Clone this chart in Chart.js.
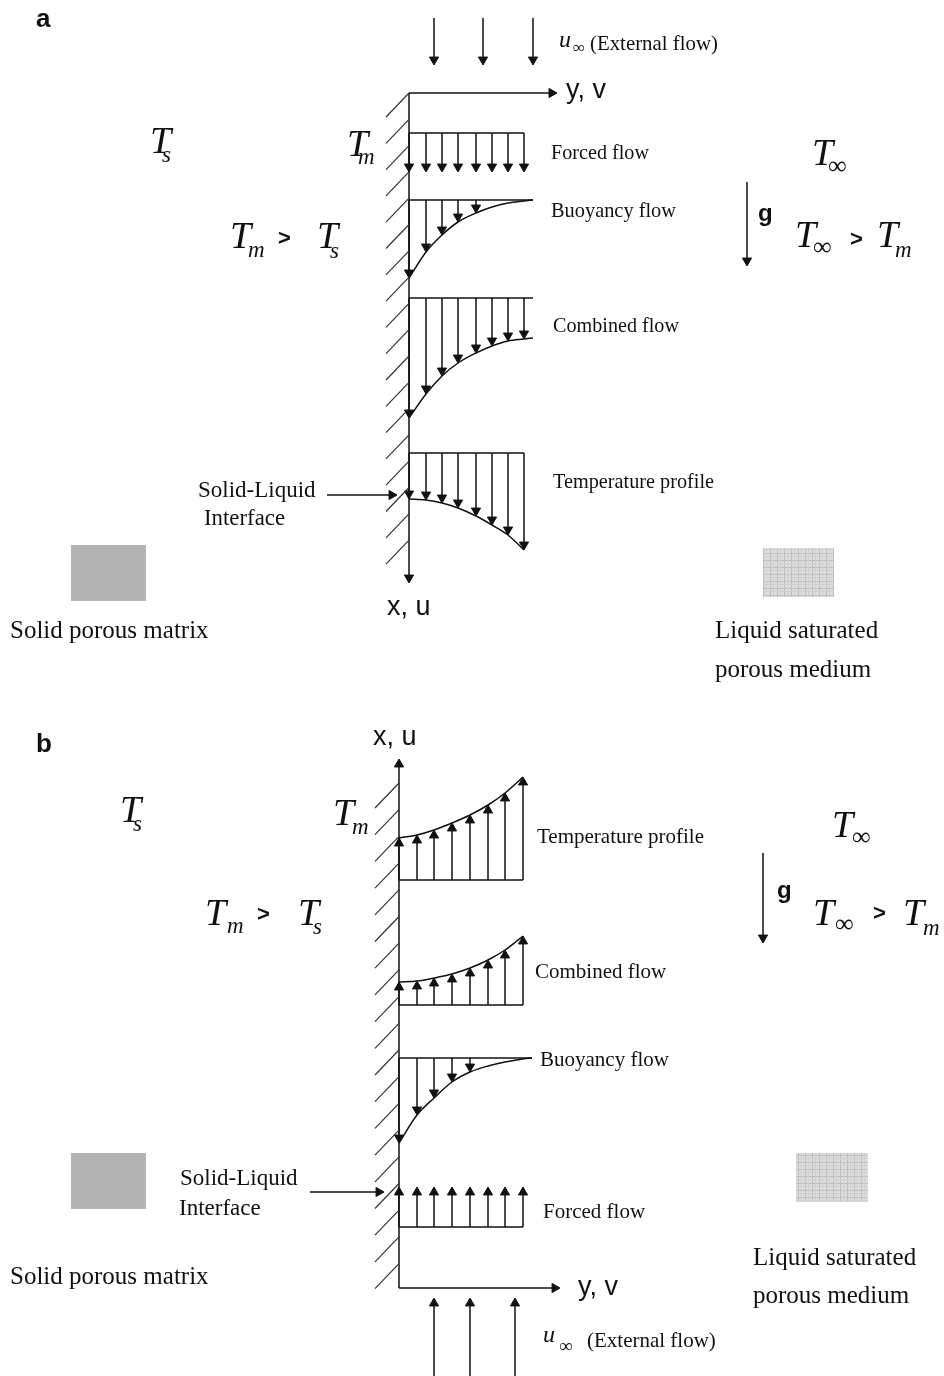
<!DOCTYPE html>
<html>
<head>
<meta charset="utf-8">
<script src="https://cdn.jsdelivr.net/npm/chart.js@4.4.1/dist/chart.umd.min.js"></script>
<style>
  html, body { margin: 0; padding: 0; background: #fff; }
  #wrap { width: 944px; height: 1376px; position: relative; }
</style>
</head>
<body>
<div id="wrap"><canvas id="fig"></canvas></div>
<script>
// Figure is drawn in its own units: 1 unit = 1 px of the 944 x 1376 page
const W = 944, H = 1376;

// --- panel (a): arrow stations (distance from wall) and profile lengths ---
const stationsA = [0, 17, 33, 49, 67, 83, 99, 115];
const forcedA   = [39, 39, 39, 39, 39, 39, 39, 39];
const curveXA   = [0, 17, 33, 49, 67, 83, 99, 115, 124];
const buoyA     = [78, 52, 35, 22, 13, 7, 3, 1, 0];
const combA     = [120, 96, 78, 65, 55, 48, 43, 41, 40];
const tempA     = [46, 47, 50, 55, 63, 72, 82, 97];

// --- panel (b) ---
const stationsB = [0, 18, 35, 53, 71, 89, 106, 124];
const forcedB   = [40, 40, 40, 40, 40, 40, 40, 40];
const curveXB   = [0, 18, 35, 53, 71, 89, 106, 124, 133];
const buoyB     = [85, 57, 40, 24, 14, 8, 4, 1, 0];
const combB     = [23, 24, 27, 31, 37, 45, 55, 69];
const tempB     = [42, 45, 50, 57, 65, 75, 87, 103];

const flowLabels   = ['Forced flow', 'Buoyancy flow', 'Combined flow', 'Temperature profile'];
const mediumLabels = ['Solid porous matrix', 'Liquid saturated', 'porous medium'];
const ifaceLabels  = ['Solid-Liquid', 'Interface'];
const axisLabels   = ['y, v', 'x, u'];
const extLabel     = '(External flow)';

const ink = '#111';
const HEAD = 5.3;
const SERIF = '"Liberation Serif", "Times New Roman", serif';
const SANS = '"Liberation Sans", Arial, sans-serif';
const TF = 'italic 38px ' + SERIF;
const SUB = 'italic 23px ' + SERIF;
const INF = '26px ' + SERIF;
const GT = 'bold 22px ' + SANS;
const LBL = '21px ' + SERIF;
const BIG = '25px ' + SERIF;
const AX = '27px ' + SANS;

const datasets = [];

// polyline; optional arrow head on the last point (triangle point style)
function seg(points, opt = {}) {
  const pts = points.map(([x, y]) => ({ x, y }));
  const n = pts.length;
  const radius = pts.map(() => 0);
  const rotation = pts.map(() => 0);
  if (opt.head) {
    const a = pts[n - 2], b = pts[n - 1];
    const dx = b.x - a.x, dy = b.y - a.y;
    const len = Math.hypot(dx, dy);
    if (len < 1) return;
    const r = opt.r || HEAD;
    // triangle is centred on the point, pull it back so the tip lands on the end
    pts[n - 1] = { x: b.x - dx * r / len, y: b.y - dy * r / len };
    radius[n - 1] = r;
    rotation[n - 1] = Math.atan2(dx, -dy) * 180 / Math.PI;
  }
  datasets.push({
    data: pts,
    showLine: true,
    borderColor: opt.color || ink,
    borderWidth: opt.w || 1.5,
    pointRadius: radius,
    pointHoverRadius: radius,
    pointRotation: rotation,
    pointStyle: 'triangle',
    pointBackgroundColor: ink,
    pointBorderColor: ink,
    pointBorderWidth: 1,
    cubicInterpolationMode: opt.curve ? 'monotone' : 'default',
    tension: 0,
    clip: false
  });
}

// ---------------- panel (a) ----------------
const A = { wall: 409, axis: 93, axisEnd: 557, wallEnd: 583, forced: 133, buoy: 200, comb: 298, temp: 453 };

for (let k = 0; k < 18; k++) {
  const t = A.axis + k * 26.3;
  seg([[A.wall, t], [A.wall - 23, t + 24]], { w: 1.2, color: '#333' });
}
seg([[A.wall, A.axis], [A.axisEnd, A.axis]], { head: true });
seg([[A.wall, A.axis], [A.wall, A.wallEnd]], { head: true });

[434, 483, 533].forEach(x => seg([[x, 18], [x, 65]], { head: true }));

// forced flow
seg([[A.wall, A.forced], [A.wall + stationsA[7], A.forced]]);
stationsA.forEach((s, i) => seg([[A.wall + s, A.forced], [A.wall + s, A.forced + forcedA[i]]], { head: true }));

// buoyancy flow
seg([[A.wall, A.buoy], [A.wall + curveXA[8], A.buoy]]);
seg(curveXA.map((s, i) => [A.wall + s, A.buoy + buoyA[i]]), { curve: true });
stationsA.slice(0, 5).forEach((s, i) => seg([[A.wall + s, A.buoy], [A.wall + s, A.buoy + buoyA[i]]], { head: true }));

// combined flow
seg([[A.wall, A.comb], [A.wall + curveXA[8], A.comb]]);
seg(curveXA.map((s, i) => [A.wall + s, A.comb + combA[i]]), { curve: true });
stationsA.forEach((s, i) => seg([[A.wall + s, A.comb], [A.wall + s, A.comb + combA[i]]], { head: true }));

// temperature profile
seg([[A.wall, A.temp], [A.wall + stationsA[7], A.temp]]);
seg(stationsA.map((s, i) => [A.wall + s, A.temp + tempA[i]]), { curve: true });
stationsA.forEach((s, i) => seg([[A.wall + s, A.temp], [A.wall + s, A.temp + tempA[i]]], { head: true }));

seg([[327, 495], [397, 495]], { head: true });
seg([[747, 182], [747, 266]], { head: true });

// ---------------- panel (b) ----------------
const B = { wall: 399, axis: 1288, axisEnd: 560, wallEnd: 759, temp: 880, comb: 1005, buoy: 1058, forced: 1227 };

for (let k = 0; k < 19; k++) {
  const t = 783 + k * 26.7;
  seg([[B.wall, t], [B.wall - 24, t + 25]], { w: 1.2, color: '#333' });
}
seg([[B.wall, B.axis], [B.axisEnd, B.axis]], { head: true });
seg([[B.wall, B.axis], [B.wall, B.wallEnd]], { head: true });

[434, 470, 515].forEach(x => seg([[x, H], [x, 1298]], { head: true }));

// temperature profile (upward)
seg([[B.wall, B.temp], [B.wall + stationsB[7], B.temp]]);
seg(stationsB.map((s, i) => [B.wall + s, B.temp - tempB[i]]), { curve: true });
stationsB.forEach((s, i) => seg([[B.wall + s, B.temp], [B.wall + s, B.temp - tempB[i]]], { head: true }));

// combined flow (upward)
seg([[B.wall, B.comb], [B.wall + stationsB[7], B.comb]]);
seg(stationsB.map((s, i) => [B.wall + s, B.comb - combB[i]]), { curve: true });
stationsB.forEach((s, i) => seg([[B.wall + s, B.comb], [B.wall + s, B.comb - combB[i]]], { head: true }));

// buoyancy flow (downward)
seg([[B.wall, B.buoy], [B.wall + curveXB[8], B.buoy]]);
seg(curveXB.map((s, i) => [B.wall + s, B.buoy + buoyB[i]]), { curve: true });
stationsB.slice(0, 5).forEach((s, i) => seg([[B.wall + s, B.buoy], [B.wall + s, B.buoy + buoyB[i]]], { head: true }));

// forced flow (upward)
seg([[B.wall, B.forced], [B.wall + stationsB[7], B.forced]]);
stationsB.forEach((s, i) => seg([[B.wall + s, B.forced], [B.wall + s, B.forced - forcedB[i]]], { head: true }));

seg([[310, 1192], [384, 1192]], { head: true });
seg([[763, 853], [763, 943]], { head: true });

// ---------------- texts ----------------
const texts = [
  // panel a
  { t: 'a', f: 'bold 26px ' + SANS, x: 36, y: 27 },
  { t: 'T', f: TF, x: 150, y: 153 }, { t: 's', f: SUB, x: 162, y: 162 },
  { t: 'T', f: TF, x: 347, y: 156 }, { t: 'm', f: SUB, x: 358, y: 164 },
  { t: 'T', f: TF, x: 230, y: 248 }, { t: 'm', f: SUB, x: 248, y: 257 },
  { t: '>', f: GT, x: 278, y: 245 },
  { t: 'T', f: TF, x: 317, y: 248 }, { t: 's', f: SUB, x: 330, y: 258 },
  { t: 'T', f: TF, x: 812, y: 165 }, { t: '\u221E', f: INF, x: 828, y: 174 },
  { t: 'g', f: 'bold 24px ' + SANS, x: 758, y: 221 },
  { t: 'T', f: TF, x: 795, y: 247 }, { t: '\u221E', f: INF, x: 813, y: 255 },
  { t: '>', f: GT, x: 850, y: 246 },
  { t: 'T', f: TF, x: 877, y: 247 }, { t: 'm', f: SUB, x: 895, y: 257 },
  { t: 'u', f: 'italic 24px ' + SERIF, x: 559, y: 47 },
  { t: '\u221E', f: '17px ' + SERIF, x: 573, y: 53 },
  { t: extLabel, f: LBL, x: 590, y: 50, mw: 128 },
  { t: axisLabels[0], f: AX, x: 566, y: 98 },
  { t: axisLabels[1], f: AX, x: 387, y: 615 },
  { t: flowLabels[0], f: LBL, x: 551, y: 159, mw: 98 },
  { t: flowLabels[1], f: LBL, x: 551, y: 217, mw: 125 },
  { t: flowLabels[2], f: LBL, x: 553, y: 332, mw: 126 },
  { t: flowLabels[3], f: LBL, x: 553, y: 488, mw: 161 },
  { t: ifaceLabels[0], f: '23px ' + SERIF, x: 198, y: 497, mw: 118 },
  { t: ifaceLabels[1], f: '23px ' + SERIF, x: 204, y: 525, mw: 81 },
  { t: mediumLabels[0], f: BIG, x: 10, y: 638, mw: 200 },
  { t: mediumLabels[1], f: BIG, x: 715, y: 638, mw: 164 },
  { t: mediumLabels[2], f: BIG, x: 715, y: 677, mw: 158 },
  // panel b
  { t: 'b', f: 'bold 26px ' + SANS, x: 36, y: 752 },
  { t: axisLabels[1], f: AX, x: 373, y: 745 },
  { t: 'T', f: TF, x: 120, y: 822 }, { t: 's', f: SUB, x: 133, y: 831 },
  { t: 'T', f: TF, x: 333, y: 825 }, { t: 'm', f: SUB, x: 352, y: 834 },
  { t: 'T', f: TF, x: 205, y: 925 }, { t: 'm', f: SUB, x: 227, y: 933 },
  { t: '>', f: GT, x: 257, y: 921 },
  { t: 'T', f: TF, x: 298, y: 925 }, { t: 's', f: SUB, x: 313, y: 934 },
  { t: 'T', f: TF, x: 832, y: 837 }, { t: '\u221E', f: INF, x: 852, y: 845 },
  { t: 'g', f: 'bold 24px ' + SANS, x: 777, y: 898 },
  { t: 'T', f: TF, x: 813, y: 925 }, { t: '\u221E', f: INF, x: 835, y: 932 },
  { t: '>', f: GT, x: 873, y: 920 },
  { t: 'T', f: TF, x: 903, y: 925 }, { t: 'm', f: SUB, x: 923, y: 935 },
  { t: flowLabels[3], f: LBL, x: 537, y: 843, mw: 173 },
  { t: flowLabels[2], f: LBL, x: 535, y: 978, mw: 137 },
  { t: flowLabels[1], f: LBL, x: 540, y: 1066, mw: 135 },
  { t: flowLabels[0], f: LBL, x: 543, y: 1218, mw: 109 },
  { t: axisLabels[0], f: AX, x: 578, y: 1295 },
  { t: 'u', f: 'italic 24px ' + SERIF, x: 543, y: 1342 },
  { t: '\u221E', f: '19px ' + SERIF, x: 559, y: 1352 },
  { t: extLabel, f: LBL, x: 587, y: 1347, mw: 131 },
  { t: ifaceLabels[0], f: '23px ' + SERIF, x: 180, y: 1185, mw: 125 },
  { t: ifaceLabels[1], f: '23px ' + SERIF, x: 179, y: 1215, mw: 86 },
  { t: mediumLabels[0], f: BIG, x: 10, y: 1284, mw: 200 },
  { t: mediumLabels[1], f: BIG, x: 753, y: 1265, mw: 164 },
  { t: mediumLabels[2], f: BIG, x: 753, y: 1303, mw: 160 }
];

// material swatches: [x0, y0, x1, y1, kind]
const swatches = [
  [71, 545, 146, 601, 'solid'], [763, 548, 834, 597, 'liquid'],
  [71, 1153, 146, 1209, 'solid'], [796, 1153, 868, 1202, 'liquid']
];

function tile(kind) {
  const c = document.createElement('canvas');
  const s = kind === 'solid' ? 4 : 7;
  c.width = s; c.height = s;
  const g = c.getContext('2d');
  if (kind === 'solid') {
    g.fillStyle = '#b3b3b3'; g.fillRect(0, 0, s, s);
    g.fillStyle = '#c0c0c0'; g.fillRect(0, 0, 1, 1); g.fillRect(2, 2, 1, 1);
    g.fillStyle = '#aaaaaa'; g.fillRect(2, 0, 1, 1); g.fillRect(0, 2, 1, 1);
  } else {
    g.fillStyle = '#dedede'; g.fillRect(0, 0, s, s);
    g.fillStyle = '#bdbdbd'; g.fillRect(0, 0, s, 1); g.fillRect(0, 0, 1, s);
    g.fillStyle = '#d0d0d0'; g.fillRect(0, 3, s, 1); g.fillRect(3, 0, 1, s);
  }
  return c;
}

const decor = {
  id: 'decor',
  beforeDraw(chart) {
    const { ctx, scales: { x, y } } = chart;
    ctx.save();
    ctx.fillStyle = '#fff';
    ctx.fillRect(0, 0, chart.width, chart.height);
    swatches.forEach(([x0, y0, x1, y1, kind]) => {
      const px = x.getPixelForValue(x0), py = y.getPixelForValue(y0);
      ctx.fillStyle = ctx.createPattern(tile(kind), 'repeat');
      ctx.fillRect(px, py, x.getPixelForValue(x1) - px, y.getPixelForValue(y1) - py);
    });
    ctx.restore();
  },
  afterDatasetsDraw(chart) {
    const { ctx, scales: { x, y } } = chart;
    ctx.save();
    ctx.fillStyle = ink;
    ctx.textBaseline = 'alphabetic';
    texts.forEach(d => {
      ctx.font = d.f;
      if (d.mw) ctx.fillText(d.t, x.getPixelForValue(d.x), y.getPixelForValue(d.y), d.mw);
      else ctx.fillText(d.t, x.getPixelForValue(d.x), y.getPixelForValue(d.y));
    });
    ctx.restore();
  }
};

new Chart(document.getElementById('fig'), {
  type: 'scatter',
  data: { datasets },
  options: {
    responsive: true,
    maintainAspectRatio: false,
    animation: false,
    events: [],
    layout: { padding: 0, autoPadding: false },
    scales: {
      x: { type: 'linear', min: 0, max: W, display: false },
      y: { type: 'linear', min: 0, max: H, reverse: true, display: false }
    },
    plugins: { legend: { display: false }, tooltip: { enabled: false } }
  },
  plugins: [decor]
});
</script>
</body>
</html>
